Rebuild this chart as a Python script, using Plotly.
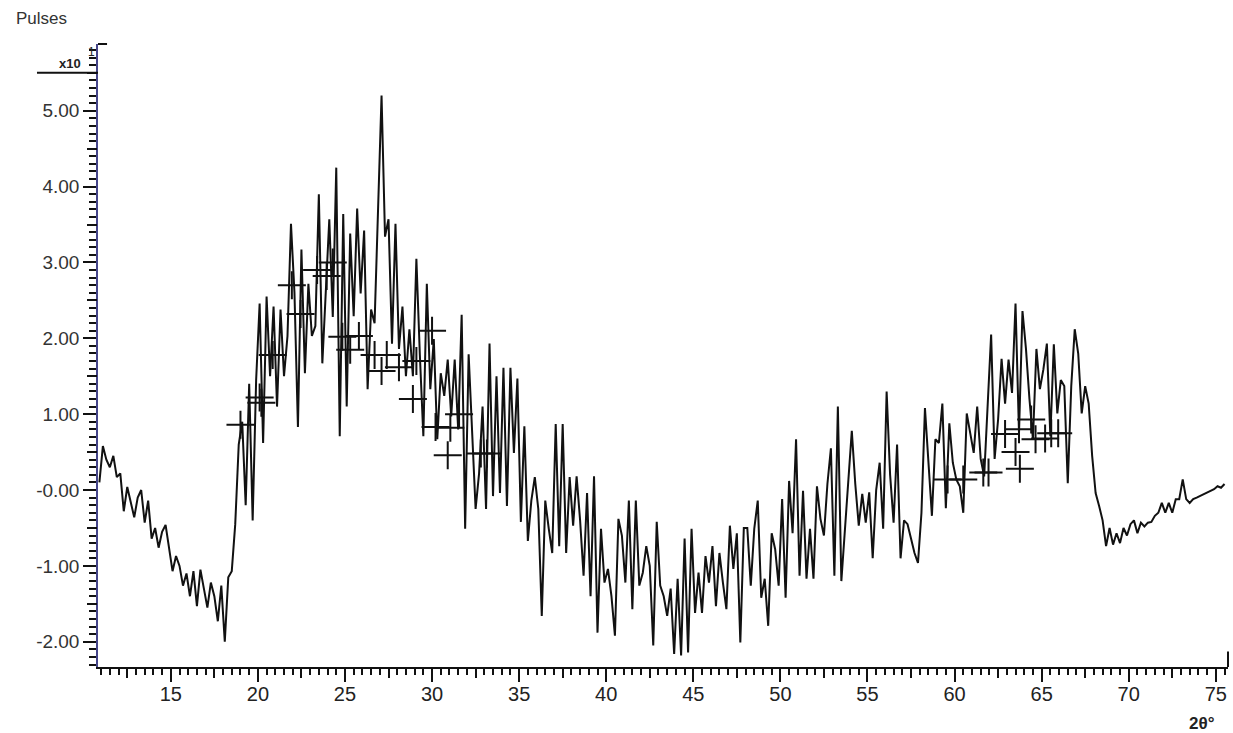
import numpy as np
import plotly.graph_objects as go

# ---- data (pulses, x10^1), 2-theta grid start 10.9 deg, step 0.2 deg ----
scan_start = 10.9
scan_step = 0.2
pulses = [
    0.1, 0.58, 0.4, 0.3, 0.45, 0.17, 0.22, -0.28, 0.04, -0.15,            # 10.9-12.7
    -0.36, -0.1, 0.0, -0.43, -0.14, -0.64, -0.5, -0.76, -0.55, -0.46,     # 12.9-14.7
    -0.75, -1.07, -0.87, -1.0, -1.26, -1.1, -1.4, -1.07, -1.53, -1.05,    # 14.9-16.7
    -1.3, -1.55, -1.22, -1.4, -1.73, -1.26, -2.0, -1.15, -1.07, -0.45,    # 16.9-18.7
    0.6, 0.9, -0.2, 1.4, -0.4, 1.45, 2.46, 0.62, 2.55, 1.5,               # 18.9-20.7
    2.42, 1.1, 2.38, 1.5, 2.03, 3.51, 2.6, 0.83, 3.17, 1.54,              # 20.9-22.7
    2.72, 2.03, 2.16, 3.9, 1.67, 2.59, 3.57, 2.28, 4.25, 0.71,            # 22.9-24.7
    3.64, 1.1, 3.38, 2.29, 3.71, 2.59, 3.42, 1.33, 2.38, 2.2,             # 24.9-26.7
    3.6, 5.2, 3.34, 3.57, 1.93, 3.51, 1.86, 2.42, 1.5, 2.12,              # 26.9-28.7
    1.5, 3.05, 1.78, 0.71, 2.72, 1.33, 1.99, 0.67, 1.54, 1.24,            # 28.9-30.7
    1.72, 0.97, 1.72, 0.8, 2.31, -0.51, 1.79, 0.8, -0.25, 0.22,           # 30.9-32.7
    1.1, -0.25, 1.93, -0.08, 1.5, -0.04, 1.61, -0.21, 1.61, 0.49,         # 32.9-34.7
    1.47, -0.42, 0.84, -0.67, -0.14, 0.17, -0.25, -1.66, -0.14, -0.51,    # 34.9-36.7
    -0.83, 0.87, -0.74, 0.87, -0.83, 0.17, -0.47, 0.18, -0.4, -1.13,      # 36.9-38.7
    -0.04, -1.4, 0.18, -1.88, -0.51, -1.22, -1.04, -1.4, -1.92, -0.38,    # 38.9-40.7
    -0.6, -1.22, -0.14, -1.57, -0.14, -1.26, -1.09, -0.74, -1.0, -2.05,   # 40.9-42.7
    -0.42, -1.26, -1.4, -1.66, -1.3, -2.16, -1.17, -2.18, -0.64, -2.14,   # 42.9-44.7
    -0.51, -1.62, -1.09, -1.62, -0.87, -1.22, -0.74, -1.53, -0.83, -1.22, # 44.9-46.7
    -1.57, -0.47, -1.04, -0.57, -2.01, -0.5, -0.5, -1.26, -0.51, -0.14,   # 46.9-48.7
    -1.42, -1.17, -1.79, -0.57, -0.78, -1.26, -0.12, -1.42, 0.12, -0.57,  # 48.9-50.7
    0.67, -1.13, -0.01, -1.17, -0.51, -1.17, 0.05, -0.38, -0.6, 0.08,     # 50.9-52.7
    0.55, -1.13, 1.1, -1.2, -0.51, 0.1, 0.78, 0.08, -0.47, -0.05,         # 52.9-54.7
    -0.43, -0.03, -0.9, 0.0, 0.36, -0.51, 1.3, 0.2, -0.43, 0.6,           # 54.9-56.7
    -0.9, -0.4, -0.45, -0.64, -0.83, -0.96, -0.3, 1.08, 0.32, -0.34,      # 56.9-58.7
    0.67, 0.62, 1.14, -0.24, 0.88, 0.36, 0.14, 0.05, -0.3, 1.01,          # 58.9-60.7
    0.75, 0.49, 1.1, 0.41, 0.18, 1.2, 2.05, 0.41, 0.93, 1.73,             # 60.9-62.7
    1.14, 1.72, 1.28, 2.46, 0.75, 2.36, 1.86, 1.2, 0.67, 1.86,            # 62.9-64.7
    1.33, 1.59, 1.93, 0.71, 1.92, 1.01, 1.45, 1.37, 0.09, 1.37,           # 64.9-66.7
    2.12, 1.8, 1.01, 1.37, 1.14, 0.45, -0.04, -0.21, -0.4, -0.74,         # 66.9-68.7
    -0.5, -0.72, -0.57, -0.7, -0.5, -0.6, -0.45, -0.4, -0.57, -0.43,      # 68.9-70.7
    -0.48, -0.43, -0.42, -0.34, -0.3, -0.17, -0.3, -0.17, -0.3, -0.12,    # 70.9-72.7
    -0.12, 0.14, -0.12, -0.17, -0.12, -0.1, -0.08, -0.06, -0.04, -0.02,   # 72.9-74.7
    0.01, 0.05, 0.03, 0.08,                                               # 74.9-75.5
]
two_theta = np.round(scan_start + scan_step * np.arange(len(pulses)), 2)

# peak markers (+)
marker_2theta = [19.0, 20.1, 20.2, 20.85, 21.95, 22.45, 23.4, 23.95, 24.3, 24.85, 25.3, 25.8,
                 26.7, 27.1, 27.4, 28.1, 28.9, 29.1, 30.0, 30.2, 30.9, 31.05, 31.55, 32.8, 33.15,
                 59.6, 60.5, 61.65, 61.95, 62.9, 63.5, 63.7, 63.75, 64.4, 64.65, 65.2, 65.55, 65.95]
marker_pulses = [0.86, 1.22, 1.15, 1.78, 2.7, 2.32, 2.9, 2.82, 3.0, 2.02, 1.85, 2.03,
                 1.78, 1.57, 1.78, 1.62, 1.2, 1.7, 2.1, 0.83, 0.46, 0.82, 1.0, 0.48, 0.48,
                 0.14, 0.14, 0.23, 0.23, 0.74, 0.5, 0.8, 0.28, 0.93, 0.67, 0.68, 0.75, 0.75]

x_major = [15, 20, 25, 30, 35, 40, 45, 50, 55, 60, 65, 70, 75]
x_medium = [12.5, 17.5, 22.5, 27.5, 32.5, 37.5, 42.5, 47.5, 52.5, 57.5, 62.5, 67.5, 72.5]
y_major = [-2, -1, 0, 1, 2, 3, 4, 5]
y_labels = ["-2.00", "-1.00", "-0.00", "1.00", "2.00", "3.00", "4.00", "5.00"]
y_medium = [-1.5, -0.5, 0.5, 1.5, 2.5, 3.5, 4.5, 5.5]

XR = [10.82, 75.7]
YR = [-2.333, 5.88]
FONT = "Liberation Sans, Arial, sans-serif"
INK = "#111111"

fig = go.Figure()
fig.add_trace(go.Scatter(x=two_theta, y=pulses, mode="lines",
                         line=dict(color=INK, width=2), showlegend=False, hoverinfo="skip"))
fig.add_trace(go.Scatter(x=marker_2theta, y=marker_pulses, mode="markers",
                         marker=dict(symbol="cross-thin", size=20, line=dict(color=INK, width=2)),
                         showlegend=False, hoverinfo="skip"))
# invisible trace so overlay axes are drawn
fig.add_trace(go.Scatter(x=[XR[0]], y=[YR[0]], xaxis="x2", yaxis="y2", mode="markers",
                         marker=dict(opacity=0), showlegend=False, hoverinfo="skip"))

fig.update_layout(
    width=1233, height=733,
    margin=dict(l=98, r=5, t=44, b=66),
    paper_bgcolor="white", plot_bgcolor="white",
    font=dict(family=FONT, color="#333333"),
    xaxis=dict(range=XR, showgrid=False, zeroline=False,
               showline=True, linecolor=INK, linewidth=2,
               tickmode="array", tickvals=x_major, ticktext=[str(v) for v in x_major],
               ticks="outside", ticklen=13, tickwidth=2, tickcolor=INK,
               ticklabelstandoff=-5,
               tickfont=dict(size=20, color="#222222", family=FONT),
               minor=dict(tickmode="linear", tick0=0, dtick=0.5, ticks="outside",
                          ticklen=6, tickwidth=2, tickcolor=INK)),
    xaxis2=dict(range=XR, overlaying="x", anchor="y", side="bottom",
                showgrid=False, zeroline=False, showline=False,
                tickmode="array", tickvals=x_medium, ticks="outside",
                ticklen=10, tickwidth=2, tickcolor=INK, showticklabels=False),
    yaxis=dict(range=YR, showgrid=False, zeroline=False,
               showline=True, linecolor="#45458a", linewidth=1.5,
               tickmode="array", tickvals=y_major, ticktext=y_labels,
               ticks="outside", ticklen=13, tickwidth=2, tickcolor=INK,
               tickfont=dict(size=19, color="#333333", family=FONT),
               minor=dict(tickmode="linear", tick0=0, dtick=0.1, ticks="outside",
                          ticklen=7, tickwidth=2, tickcolor=INK)),
    yaxis2=dict(range=YR, overlaying="y", anchor="x", side="left",
                showgrid=False, zeroline=False, showline=False,
                tickmode="array", tickvals=y_medium, ticks="outside",
                ticklen=10, tickwidth=2, tickcolor=INK, showticklabels=False),
)

# x10^1 multiplier bar and axis end hooks
fig.add_shape(type="line", xref="paper", yref="y", x0=-0.054, x1=0.0, y0=5.5, y1=5.5,
              line=dict(color=INK, width=2))
fig.add_shape(type="line", xref="paper", yref="paper", x0=0.0, x1=0.008, y0=1.0, y1=1.0,
              line=dict(color=INK, width=2))
fig.add_shape(type="line", xref="paper", yref="paper", x0=1.0, x1=1.0, y0=0.0, y1=0.025,
              line=dict(color=INK, width=2))

fig.add_annotation(text="Pulses", xref="paper", yref="paper",
                   x=(41 - 98) / 1130, y=1 + (44 - 19) / 623, showarrow=False,
                   font=dict(size=17, color="#333333", family=FONT), xanchor="center", yanchor="middle")
fig.add_annotation(text="<b>x10</b>", xref="paper", yref="y", x=(83 - 98) / 1130, y=5.62,
                   showarrow=False, xanchor="right", yanchor="middle",
                   font=dict(size=13, color="#222222", family=FONT))
fig.add_annotation(text="1", xref="paper", yref="y", x=(86 - 98) / 1130, y=5.78,
                   showarrow=False, xanchor="left", yanchor="middle",
                   font=dict(size=12, color="#222222", family=FONT))
fig.add_annotation(text="<b>2θ°</b>", xref="paper", yref="paper",
                   x=(1202 - 98) / 1130, y=-(723 - 667) / 623, showarrow=False,
                   xanchor="center", yanchor="middle",
                   font=dict(size=17, color="#222222", family=FONT))

fig.write_html("out.html")
